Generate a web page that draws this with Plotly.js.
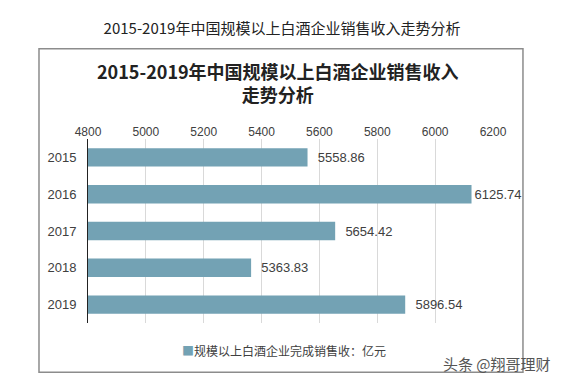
<!DOCTYPE html>
<html><head><meta charset="utf-8">
<script src="https://cdn.plot.ly/plotly-3.0.1.min.js"></script>
<style>html,body{margin:0;padding:0;background:#fff}#chart{width:564px;height:380px}</style>
</head><body><div id="chart"></div>
<script>
const years = ['2015','2016','2017','2018','2019'];
const revenue = [5558.86, 6125.74, 5654.42, 5363.83, 5896.54];
const seriesName = '规模以上白酒企业完成销售收：亿元';
const xTicks = [4800, 5000, 5200, 5400, 5600, 5800, 6000, 6200];
const outerTitle = '2015-2019年中国规模以上白酒企业销售收入走势分析';
const innerTitle = '2015-2019年中国规模以上白酒企业销售收入<br>走势分析';
const watermark = '头条 @翔哥理财';

const F = 'Liberation Sans, Arial, Noto Sans CJK SC, sans-serif';
const CJK = 'Noto Sans CJK SC, sans-serif';
const barColor = '#73A2B4';
const trace = {
  type: 'bar', orientation: 'h', y: years, x: revenue, name: seriesName,
  marker: {color: barColor}, text: revenue.map(v => (v > 6100 ? '' : '  ') + v.toFixed(2)),
  textposition: 'outside', cliponaxis: false, showlegend: false,
  textfont: {family: F, size: 13, color: '#404040'}, hoverinfo: 'x+y'
};
const layout = {
  width: 564, height: 380, paper_bgcolor: '#fff', plot_bgcolor: '#fff',
  margin: {l: 88, r: 71, t: 139, b: 57},
  bargap: 0.5, showlegend: false,
  font: {family: F, size: 12, color: '#404040'},
  title: {text: outerTitle, x: 0.5, xanchor: 'center', y: 0.925, yref: 'container', yanchor: 'middle',
    font: {family: CJK, size: 15, color: '#222'}},
  xaxis: {side: 'top', range: [4800, 6200], tickvals: xTicks, ticktext: xTicks.map(String),
    showgrid: true, gridcolor: '#d9d9d9', zeroline: false, showline: false, ticks: '',
    tickfont: {family: F, size: 12, color: '#404040'}, fixedrange: true},
  yaxis: {autorange: 'reversed', showline: true, linecolor: '#222', linewidth: 1, ticks: '',
    showgrid: false, tickfont: {family: F, size: 13, color: '#404040'}, ticklabelstandoff: 8, fixedrange: true},
  shapes: [{type: 'rect', xref: 'paper', yref: 'paper', x0: -0.121, x1: 1.074, y0: -0.268, y1: 1.49,
    line: {color: '#8c8c8c', width: 1.5}, fillcolor: 'rgba(0,0,0,0)', layer: 'below'}],
  annotations: [
    {text: innerTitle, xref: 'paper', yref: 'paper', x: 0.47, y: 1.305, xanchor: 'center', yanchor: 'middle',
      showarrow: false, font: {family: CJK, size: 18, color: '#222', weight: 'bold'}},
    {text: '<span style="color:' + barColor + '">■</span>' + seriesName, xref: 'paper', yref: 'paper',
      x: 0.227, y: -0.148, xanchor: 'left', yanchor: 'middle',
      showarrow: false, font: {family: CJK, size: 12, color: '#404040'}},
    {text: watermark, xref: 'paper', yref: 'paper', x: 1.148, y: -0.219, xanchor: 'right', yanchor: 'middle',
      showarrow: false, font: {family: CJK, size: 15, color: '#555'}}
  ]
};
Plotly.newPlot('chart', [trace], layout, {displayModeBar: false, staticPlot: true});
</script></body></html>
